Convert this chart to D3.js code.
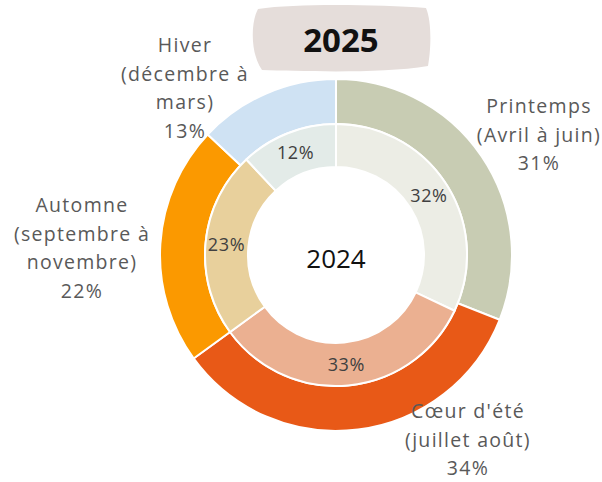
<!DOCTYPE html>
<html>
<head>
<meta charset="utf-8">
<script src="https://cdn.jsdelivr.net/npm/d3@7"></script>
<style>
  body { margin: 0; background: #fff; }
  svg { display: block; }
</style>
</head>
<body>
<div id="viz"></div>
<script>
// Seasons, clockwise from 12 o'clock.
const SEASONS = ["Printemps", "Cœur d'été", "Automne", "Hiver"];
const LABEL_LINES = [
  ["Printemps", "(Avril à juin)"],
  ["Cœur d'été", "(juillet août)"],
  ["Automne", "(septembre à", "novembre)"],
  ["Hiver", "(décembre à", "mars)"]
];
const VALUES_2025 = [31, 34, 22, 13];
const VALUES_2024 = [32, 33, 23, 12];
const COLORS_2025 = ["#c8ccb3", "#e85917", "#fb9900", "#cfe2f3"];
const COLORS_2024 = ["#ecede5", "#ebb091", "#e8d09c", "#e3ebe8"];

// Outer label anchors (Excel placement), relative to chart centre.
const LABEL_OFFSETS = [[203, -120], [132, 185], [-254, -7], [-151, -167]];

const W = 602, H = 482;
const cx = 336, cy = 255;
const font = "'Open Sans', 'Noto Sans', sans-serif";

const svg = d3.select("#viz").append("svg")
  .attr("width", W).attr("height", H);

const pie = d3.pie().sort(null).value(d => d);

const outerArc = d3.arc().innerRadius(131).outerRadius(176);
const innerArc = d3.arc().innerRadius(88).outerRadius(131);
const innerLabelArc = d3.arc().innerRadius(110).outerRadius(110);

const g = svg.append("g").attr("transform", `translate(${cx},${cy})`);

g.append("g")
  .selectAll("path")
  .data(pie(VALUES_2025))
  .join("path")
  .attr("d", outerArc)
  .attr("fill", (d, i) => COLORS_2025[i])
  .attr("stroke", "#fff")
  .attr("stroke-width", 2);

g.append("g")
  .selectAll("path")
  .data(pie(VALUES_2024))
  .join("path")
  .attr("d", innerArc)
  .attr("fill", (d, i) => COLORS_2024[i])
  .attr("stroke", "#fff")
  .attr("stroke-width", 2);

// Inner ring percentages.
g.append("g")
  .selectAll("text")
  .data(pie(VALUES_2024))
  .join("text")
  .attr("transform", d => `translate(${innerLabelArc.centroid(d)})`)
  .attr("dy", "0.35em")
  .attr("text-anchor", "middle")
  .attr("fill", "#404040")
  .style("font-family", font)
  .style("font-size", "18px")
  .style("letter-spacing", "0.6px")
  .text(d => `${d.data}%`);

// Outer labels: name lines + value.
const lab = g.append("g")
  .selectAll("text")
  .data(pie(VALUES_2025))
  .join("text")
  .attr("text-anchor", "middle")
  .attr("fill", "#595959")
  .style("font-family", font)
  .style("font-size", "19.5px")
  .style("letter-spacing", "1.3px");

lab.each(function (d, i) {
  const lines = LABEL_LINES[i].concat([`${d.data}%`]);
  const [ox, oy] = LABEL_OFFSETS[i];
  const lh = 28.5;
  const y0 = oy - (lines.length - 1) * lh / 2;
  d3.select(this).selectAll("tspan")
    .data(lines)
    .join("tspan")
    .attr("x", ox)
    .attr("y", (t, k) => y0 + k * lh)
    .attr("dy", "0.35em")
    .text(t => t);
});

// Centre label.
g.append("text")
  .attr("text-anchor", "middle")
  .attr("dy", "0.35em")
  .attr("y", 4)
  .attr("fill", "#111")
  .style("font-family", font)
  .style("font-size", "26px")
  .text("2024");

// Title in hand-drawn pill.
svg.append("path")
  .attr("d", "M258,9 C300,3 380,5 426,8 C432,22 431,50 428,66 C380,74 300,71 262,70 C251,55 250,24 258,9 Z")
  .attr("fill", "#e5ddda");

svg.append("text")
  .attr("x", 341)
  .attr("y", 40)
  .attr("dy", "0.35em")
  .attr("text-anchor", "middle")
  .attr("fill", "#111")
  .style("font-family", font)
  .style("font-weight", "bold")
  .style("font-size", "33px")
  .text("2025");
</script>
</body>
</html>
